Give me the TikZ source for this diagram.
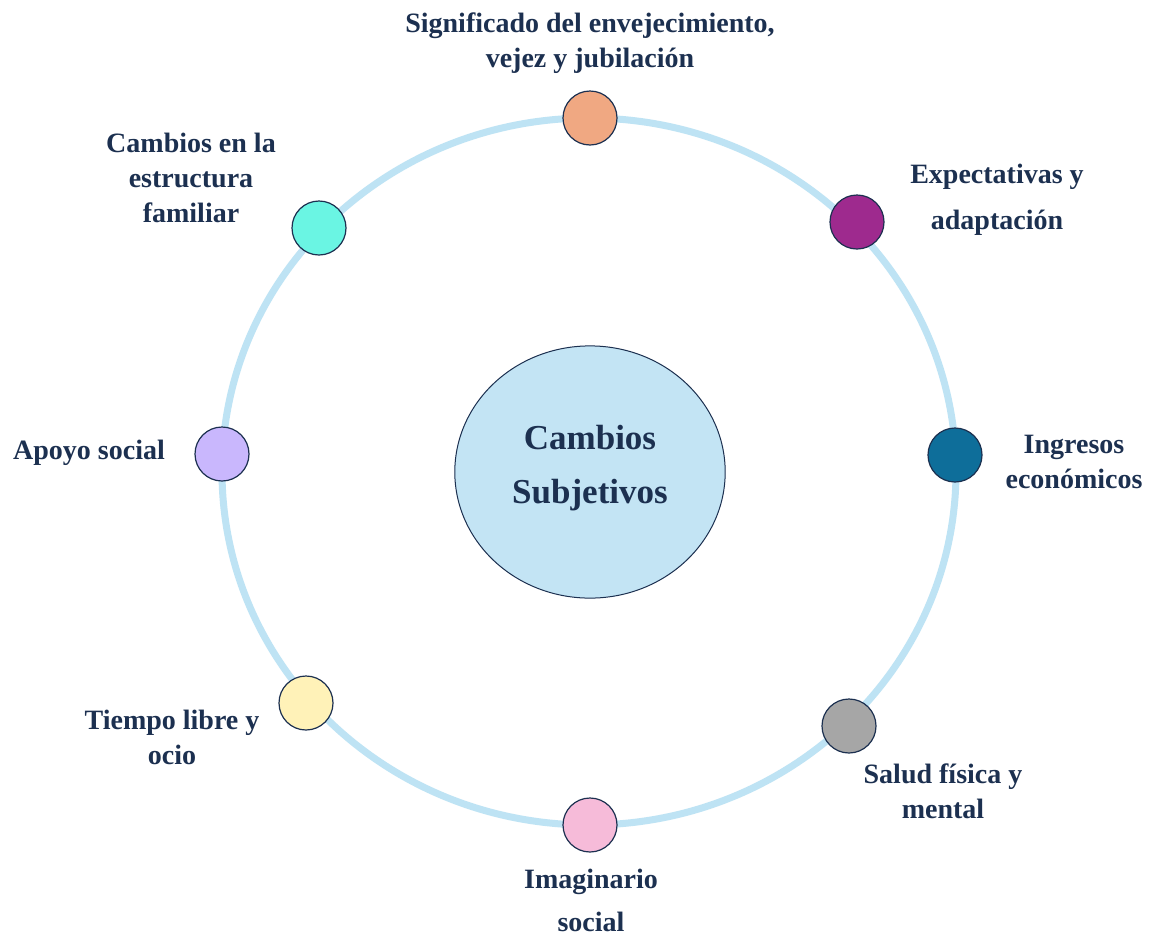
\documentclass[tikz,border=0pt]{standalone}
\usepackage{fontspec}
\setmainfont{Liberation Serif}
\begin{document}
\begin{tikzpicture}[x=1pt,y=-1pt,
  lbl/.style={font=\bfseries\fontsize{28}{35}\selectfont, text=navy, align=center, inner sep=0pt},
  dot/.style={circle, draw=navy, line width=1.2pt, minimum size=54pt, inner sep=0pt}]
\definecolor{navy}{HTML}{1C3050}
\definecolor{ring}{HTML}{BEE3F4}
\definecolor{core}{HTML}{C3E4F4}
\useasboundingbox (0,0) rectangle (1157,935);
\fill[white] (0,0) rectangle (1157,935);
\draw[ring, line width=7pt] (589,471.5) ellipse [x radius=367, y radius=353.5];
\node[draw=navy, line width=1pt, fill=core, circle, minimum size=260pt, xscale=1.04, yscale=0.97, inner sep=0pt] (core) at (590,472) {};
\node[font=\bfseries\fontsize{35}{54}\selectfont, text=navy, align=center] (coretxt) at (590,468) {Cambios\\Subjetivos};
\node[dot, fill={rgb,255:red,240;green,168;blue,130}] (n1) at (590,118) {};
\node[dot, fill={rgb,255:red,158;green,42;blue,142}] (n2) at (857,222) {};
\node[dot, fill={rgb,255:red,14;green,110;blue,154}] (n3) at (955,455) {};
\node[dot, fill={rgb,255:red,166;green,166;blue,166}] (n4) at (849,726) {};
\node[dot, fill={rgb,255:red,246;green,187;blue,217}] (n5) at (590,825) {};
\node[dot, fill={rgb,255:red,255;green,242;blue,184}] (n6) at (306,703) {};
\node[dot, fill={rgb,255:red,201;green,183;blue,253}] (n7) at (222,454) {};
\node[dot, fill={rgb,255:red,106;green,245;blue,227}] (n8) at (319,228) {};
\node[lbl] (t1) at (590,43) {Significado del envejecimiento,\\vejez y jubilación};
\node[lbl, font=\bfseries\fontsize{28}{46}\selectfont] (t2) at (997,200) {Expectativas y\\adaptación};
\node[lbl] (t3) at (1074,462) {Ingresos\\económicos};
\node[lbl] (t4) at (943,791) {Salud física y\\mental};
\node[lbl, font=\bfseries\fontsize{28}{43}\selectfont] (t5) at (591,900) {Imaginario\\social};
\node[lbl] (t6) at (172,737) {Tiempo libre y\\ocio};
\node[lbl] (t7) at (89,453) {Apoyo social};
\node[lbl] (t8) at (191,178) {Cambios en la\\estructura\\familiar};
\end{tikzpicture}
\end{document}
